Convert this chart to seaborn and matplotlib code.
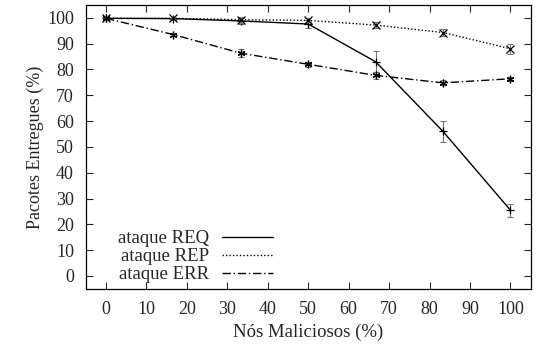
import numpy as np
import pandas as pd
import matplotlib
matplotlib.use('Agg')
import matplotlib.pyplot as plt
from matplotlib.lines import Line2D
import seaborn as sns

# porcentagem de nós maliciosos
nos_maliciosos = [0, 16.67, 33.33, 50, 66.67, 83.33, 100]

req = [99.8, 99.7, 98.8, 97.6, 83.0, 56.0, 25.5]
req_err = [0.3, 0.4, 1.0, 1.5, 4.0, 4.0, 2.5]
rep = [99.8, 99.8, 99.3, 99.0, 97.2, 94.3, 88.0]
rep_err = [0.3, 0.3, 1.2, 0.8, 1.0, 1.2, 2.0]
err = [99.8, 93.5, 86.3, 82.0, 77.7, 74.8, 76.4]
err_err = [0.3, 0.6, 1.5, 1.0, 1.5, 1.0, 0.8]

series = [
    ('ataque REQ', req, req_err, '-', '+'),
    ('ataque REP', rep, rep_err, (0, (1, 1.5)), 'x'),
    ('ataque ERR', err, err_err, (0, (6, 2, 1, 2)), (6, 2, 0)),
]

sns.set_style('ticks')
plt.rcParams['font.family'] = ['Liberation Serif', 'DejaVu Serif']

fig = plt.figure(figsize=(5.36, 3.51), dpi=100)
ax = fig.add_axes([0.160, 0.177, 0.830, 0.809])

for nome, vals, erros, ls, mk in series:
    df = pd.DataFrame({'x': nos_maliciosos, 'y': vals})
    ax.errorbar(nos_maliciosos, vals, yerr=erros, fmt='none', ecolor='#777777',
                elinewidth=0.8, capsize=2, capthick=0.8, linestyle=':')
    sns.lineplot(data=df, x='x', y='y', ax=ax, color='black', linewidth=1.0,
                 linestyle=ls, marker=mk, markersize=5.5, markeredgewidth=0.9,
                 markeredgecolor='black', label=nome)

ax.set_xlim(-5, 105)
ax.set_ylim(-5, 105)
ax.set_xticks(range(0, 101, 10))
ax.set_yticks(range(0, 101, 10))
ax.tick_params(direction='in', top=True, right=True, length=5, width=0.8,
               labelsize=13)
ax.tick_params(axis='x', pad=9)
ax.tick_params(axis='y', pad=8.5)
for s in ax.spines.values():
    s.set_linewidth(0.9)
    s.set_color('black')
ax.set_xlabel('Nós Maliciosos (%)', fontsize=13.5, labelpad=4)
ax.set_ylabel('Pacotes Entregues (%)', fontsize=13, labelpad=2)

labels = [s[0] for s in series]
handles = [Line2D([], [], color='black', linewidth=1.0, linestyle=s[3]) for s in series]
ax.legend(handles, labels, loc='lower right', bbox_to_anchor=(0.421, 0.02),
          frameon=False, markerfirst=False, handlelength=2.7, handletextpad=0.7,
          labelspacing=0.05, fontsize=13.5, borderaxespad=0, borderpad=0)

fig.savefig('out.png', dpi=100)
